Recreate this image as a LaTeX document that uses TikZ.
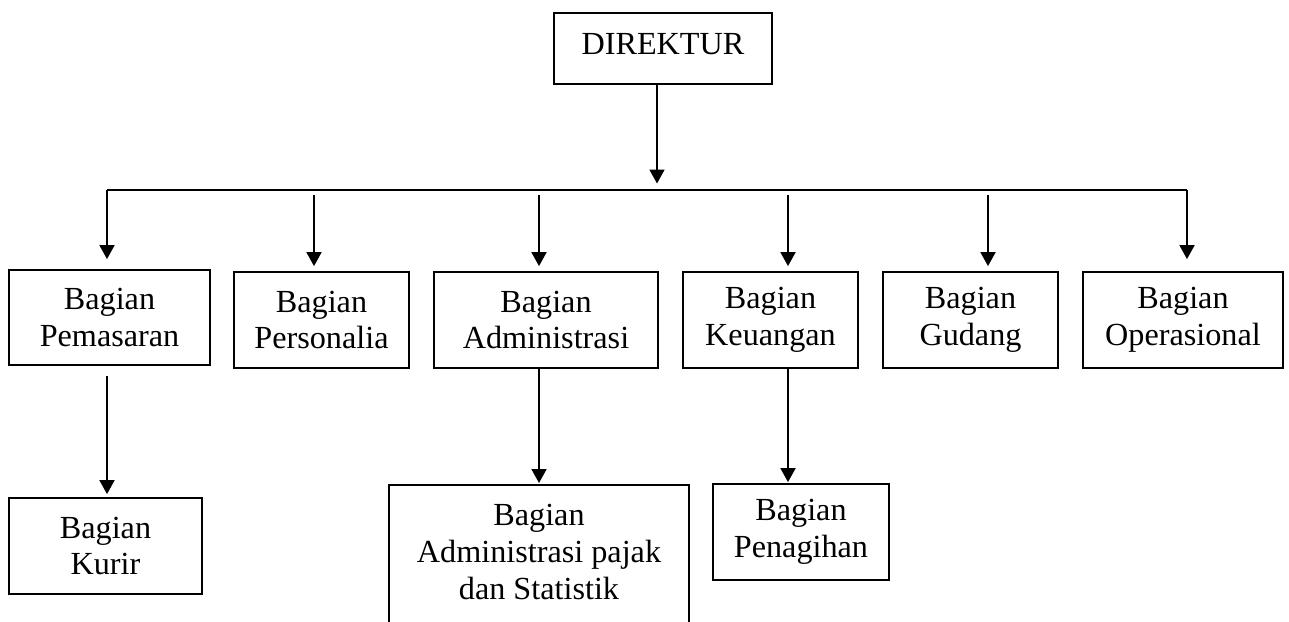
\documentclass[tikz,border=0pt]{standalone}
\usepackage{fontspec}
\setmainfont{Liberation Serif}
\usetikzlibrary{arrows.meta,calc}
\begin{document}
\begin{tikzpicture}[x=1pt,y=-1pt,
  box/.style={draw, line width=1.8pt, inner sep=0pt, align=center,
    font=\fontsize{32.2}{36.8}\selectfont},
  txt/.style={inner sep=0pt, align=center, font=\fontsize{32.2}{36.8}\selectfont},
  conn/.style={line width=1.8pt},
  arr/.style={line width=1.8pt, -{Triangle[length=14pt,width=15pt]}}]
\clip (0,0) rectangle (1289,621);
\fill[white] (0,0) rectangle (1289,621);
% boxes
\node[box, minimum width=218pt, minimum height=71pt] (dir) at (663,48.5) {};
\node[txt] (dirt) at (663,44) {DIREKTUR};
\node[box, minimum width=201pt, minimum height=95pt] (pem) at (109.5,317.5) {Bagian\\Pemasaran};
\node[box, minimum width=175pt, minimum height=96pt] (per) at (321.5,320) {Bagian\\Personalia};
\node[box, minimum width=224pt, minimum height=96pt] (adm) at (546,320) {Bagian\\Administrasi};
\node[box, minimum width=175pt, minimum height=96pt] (keu) at (770.5,320) {Bagian\\Keuangan};
\node[box, minimum width=175pt, minimum height=96pt] (gud) at (970.5,320) {Bagian\\Gudang};
\node[box, minimum width=200pt, minimum height=96pt] (ops) at (1183,320) {Bagian\\Operasional};
\node[box, minimum width=193pt, minimum height=96pt] (kur) at (105.5,546) {Bagian\\Kurir};
\node[box, minimum width=300pt, minimum height=176pt, anchor=north] (paj) at (539,484) {};
\node[txt] (pajt) at (539,552) {Bagian\\Administrasi pajak\\dan Statistik};
\node[box, minimum width=176pt, minimum height=96pt] (pen) at (801,532) {Bagian\\Penagihan};
% connector coordinates
\coordinate (t0) at (657,190);
\coordinate (busL) at (107,190);
\coordinate (busR) at (1187,190);
\coordinate (c1) at (314,195);
\coordinate (c2) at (539,195);
\coordinate (c3) at (788,195);
\coordinate (c4) at (988,195);
% connectors
\draw[arr, shorten >=6.5pt] (t0 |- dir.south) -- (t0);
\draw[conn] (busL) -- (busR);
\draw[arr, shorten >=10pt] (busL) -- (busL |- pem.north);
\draw[arr, shorten >=12pt] (busR) -- (busR |- ops.north);
\draw[arr, shorten >=5pt] (c1) -- (c1 |- per.north);
\draw[arr, shorten >=5pt] (c2) -- (c2 |- adm.north);
\draw[arr, shorten >=5pt] (c3) -- (c3 |- keu.north);
\draw[arr, shorten >=5pt] (c4) -- (c4 |- gud.north);
\draw[arr, shorten <=10pt, shorten >=3pt] (busL |- pem.south) -- (busL |- kur.north);
\draw[arr, shorten >=1pt] (c2 |- adm.south) -- (c2 |- paj.north);
\draw[arr, shorten >=1pt] (c3 |- keu.south) -- (c3 |- pen.north);
\end{tikzpicture}
\end{document}
